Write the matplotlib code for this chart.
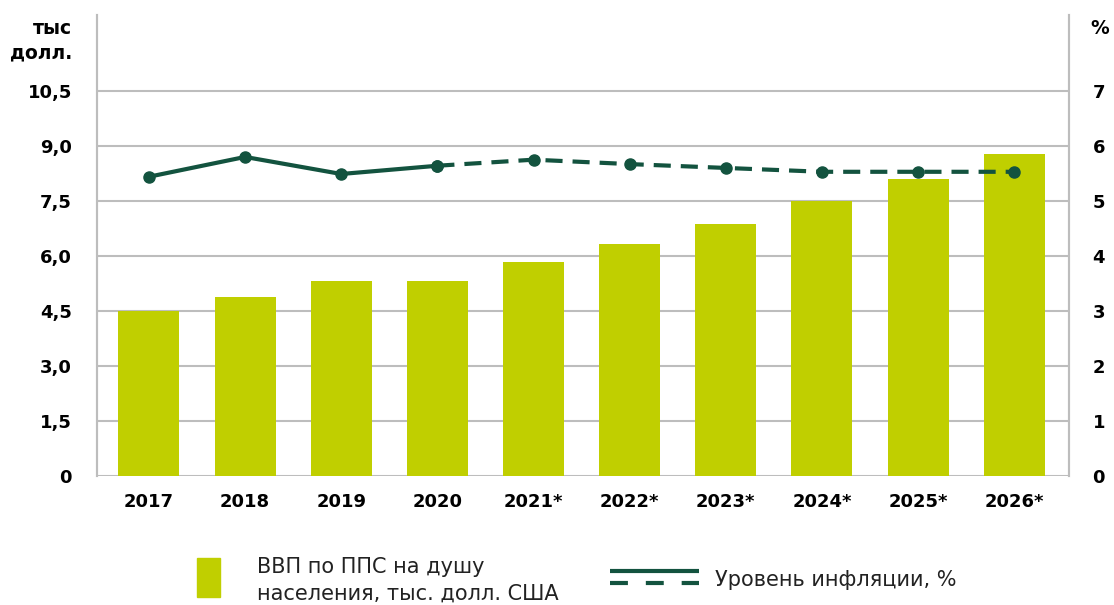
import matplotlib.pyplot as plt
from matplotlib.patches import Rectangle
from matplotlib.lines import Line2D
import numpy as np

# Data
years = ["2017", "2018", "2019", "2020", "2021*", "2022*", "2023*", "2024*", "2025*", "2026*"]
gdp_ppp = [4.5, 4.88, 5.32, 5.32, 5.84, 6.33, 6.87, 7.5, 8.1, 8.78]
inflation = [5.44, 5.80, 5.49, 5.64, 5.75, 5.67, 5.60, 5.53, 5.53, 5.53]
left_ticks = [0, 1.5, 3.0, 4.5, 6.0, 7.5, 9.0, 10.5]
left_labels = ["0", "1,5", "3,0", "4,5", "6,0", "7,5", "9,0", "10,5"]
right_ticks = [0, 1, 2, 3, 4, 5, 6, 7]

bar_color = "#c0cf00"
line_color = "#13533f"
grid_color = "#bdbdbd"

plt.rcParams['font.family'] = ['DejaVu Sans']

fig = plt.figure(figsize=(11.14, 6.05), dpi=100)
ax = fig.add_axes([0.0871, 0.2132, 0.8725, 0.762])
ax2 = ax.twinx()

x = np.arange(len(years))
ax.bar(x, gdp_ppp, width=0.635, color=bar_color, zorder=2)
ax.set_xlim(-0.54, 9.57)
ax.set_ylim(0, 12.57)
ax.set_yticks(left_ticks)
ax.set_yticklabels(left_labels)
ax.set_xticks(x)
ax.set_xticklabels(years)
ax.grid(axis='y', color=grid_color, linewidth=1.5, zorder=0)
ax.set_axisbelow(True)

for a in (ax, ax2):
    for s in ("top", "bottom"):
        a.spines[s].set_visible(False)
    a.spines["left"].set_color(grid_color)
    a.spines["right"].set_color(grid_color)
    a.spines["left"].set_linewidth(1.5)
    a.spines["right"].set_linewidth(1.5)
    a.tick_params(length=0)

ax.tick_params(axis='y', pad=18, labelsize=13)
ax.tick_params(axis='x', pad=12, labelsize=13)
for lbl in ax.get_xticklabels() + ax.get_yticklabels():
    lbl.set_fontweight('bold')

# inflation line: solid for actuals, dashed for forecasts
ax2.set_ylim(0, 12.57 / 1.5)
ax2.set_yticks(right_ticks)
ax2.tick_params(axis='y', pad=17, labelsize=13)
for lbl in ax2.get_yticklabels():
    lbl.set_fontweight('bold')
ax2.plot(x[:4], inflation[:4], color=line_color, linewidth=3, marker='o', markersize=8, zorder=3)
ax2.plot(x[3:], inflation[3:], color=line_color, linewidth=3, marker='o', markersize=8,
         dashes=(4.1, 2.4), zorder=3)

# axis unit labels
fig.text(72 / 1114, 1 - 28 / 605, "тыс", ha='right', va='center', fontsize=13.5, fontweight='bold')
fig.text(72 / 1114, 1 - 53 / 605, "долл.", ha='right', va='center', fontsize=13.5, fontweight='bold')
fig.text(1100 / 1114, 1 - 28 / 605, "%", ha='center', va='center', fontsize=13.5, fontweight='bold')

# legend drawn by hand
W, H = 1114, 605
fig.patches.append(Rectangle((197 / W, 1 - 597 / H), 23 / W, 39 / H, transform=fig.transFigure,
                             color=bar_color, figure=fig))
fig.text(257 / W, 1 - 567 / H, "ВВП по ППС на душу", ha='left', va='center', fontsize=15,
         color='#222222')
fig.text(257 / W, 1 - 594 / H, "населения, тыс. долл. США", ha='left', va='center', fontsize=15,
         color='#222222')
fig.lines.append(Line2D([610 / W, 699 / W], [1 - 571 / H, 1 - 571 / H], transform=fig.transFigure,
                        color=line_color, linewidth=3, solid_capstyle='butt'))
fig.lines.append(Line2D([610 / W, 699 / W], [1 - 583 / H, 1 - 583 / H], transform=fig.transFigure,
                        color=line_color, linewidth=3, dashes=(4.3, 4.3), dash_capstyle='butt'))
fig.text(715 / W, 1 - 580 / H, "Уровень инфляции, %", ha='left', va='center', fontsize=15,
         color='#222222')

plt.savefig("out.png", dpi=100)
plt.close()
